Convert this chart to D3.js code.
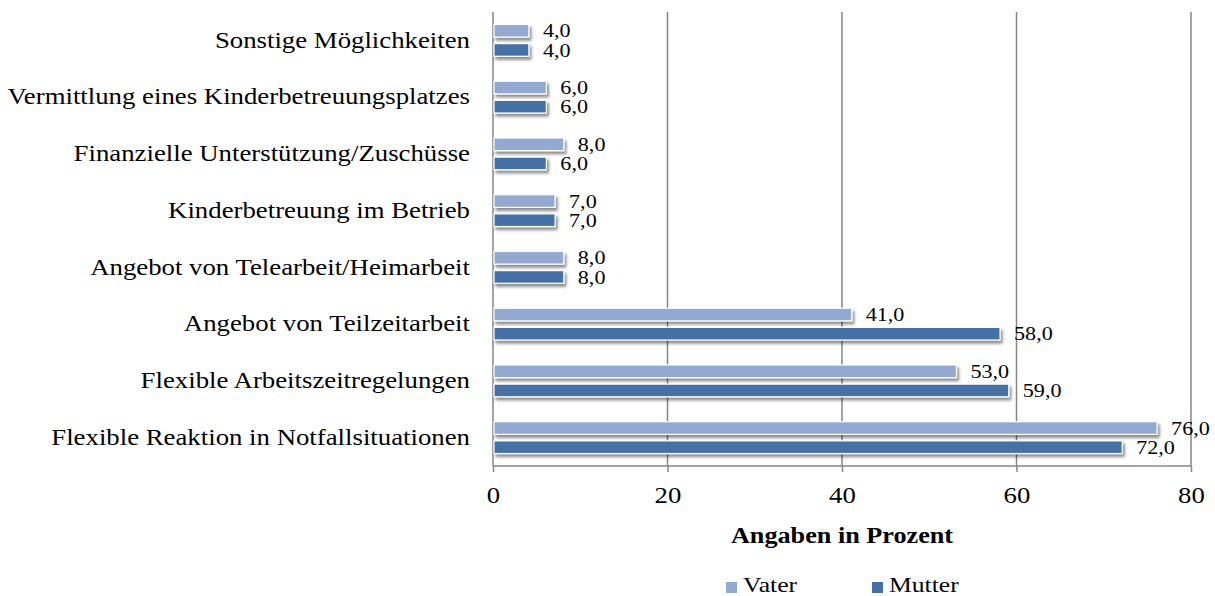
<!DOCTYPE html>
<html>
<head>
<meta charset="utf-8">
<script src="https://cdn.jsdelivr.net/npm/d3@7"></script>
<style>
  html, body { margin: 0; padding: 0; background: #fff; }
  svg { display: block; }
  svg text { font-family: "Liberation Serif", "Times New Roman", serif; fill: #000; }
</style>
</head>
<body>
<svg id="chart" width="1215" height="596"></svg>
<script>
// Categories, top to bottom
const categories = [
  "Sonstige Möglichkeiten",
  "Vermittlung eines Kinderbetreuungsplatzes",
  "Finanzielle Unterstützung/Zuschüsse",
  "Kinderbetreuung im Betrieb",
  "Angebot von Telearbeit/Heimarbeit",
  "Angebot von Teilzeitarbeit",
  "Flexible Arbeitszeitregelungen",
  "Flexible Reaktion in Notfallsituationen"
];
const seriesNames = ["Vater", "Mutter"];
const vaterValues  = [4, 6, 8, 7, 8, 41, 53, 76];
const mutterValues = [4, 6, 6, 7, 8, 58, 59, 72];
const xTicks = [0, 20, 40, 60, 80];
const axisTitle = "Angaben in Prozent";

const colors = { Vater: "#93a9d1", Mutter: "#4571a7" };
const STRETCH = 1.165;   // wide text setting used throughout the chart

// Widen a text horizontally while keeping its anchor point fixed
function widen(sel) {
  sel.each(function () {
    const t = d3.select(this);
    const x0 = +t.attr("x") || 0;
    t.attr("transform", `translate(${x0 * (1 - STRETCH)},0) scale(${STRETCH},1)`);
  });
}

const svg = d3.select("#chart");
const plotLeft = 493, plotRight = 1191, plotTop = 12, plotBottom = 466;

const x = d3.scaleLinear().domain([0, 80]).range([plotLeft, plotRight]);
const y = d3.scaleBand().domain(categories).range([plotTop, plotBottom]).paddingInner(0.44).paddingOuter(0.22);
const ySub = d3.scaleBand().domain(seriesNames).range([0, y.bandwidth()]).paddingInner(0.34);

// Drop shadow for bars
const defs = svg.append("defs");
const f = defs.append("filter").attr("id", "shadow").attr("x", "-10%").attr("y", "-50%").attr("width", "130%").attr("height", "250%");
f.append("feDropShadow").attr("dx", 2).attr("dy", 3).attr("stdDeviation", 1.6)
  .attr("flood-color", "#000").attr("flood-opacity", 0.45);

// Gridlines
svg.append("g").selectAll("line").data(xTicks.slice(1)).join("line")
  .attr("x1", d => x(d)).attr("x2", d => x(d))
  .attr("y1", plotTop).attr("y2", plotBottom)
  .attr("stroke", "#868686").attr("stroke-width", 1.5);

// X axis
const xAxis = d3.axisBottom(x).tickValues(xTicks).tickSize(6).tickPadding(15).tickFormat(d3.format("d"));
const gx = svg.append("g").attr("transform", `translate(0,${plotBottom})`).call(xAxis);
gx.attr("font-family", null);
gx.select(".domain").attr("stroke", "#868686").attr("stroke-width", 1.5).attr("d", `M${x(0)},0H${x(80)}`);
gx.selectAll(".tick line").attr("stroke", "#868686").attr("stroke-width", 1.5);
gx.selectAll(".tick text").attr("font-size", 23).call(widen);

// Y axis line
svg.append("line").attr("x1", x(0)).attr("x2", x(0)).attr("y1", plotTop).attr("y2", plotBottom)
  .attr("stroke", "#868686").attr("stroke-width", 1.5);

// Category labels
const yAxis = d3.axisLeft(y).tickSize(0).tickPadding(23);
const gy = svg.append("g").attr("transform", `translate(${x(0)},0)`).call(yAxis);
gy.attr("font-family", null);
gy.select(".domain").remove();
gy.selectAll(".tick text").attr("font-size", 23).call(widen);

// Bars
const rows = categories.map((c, i) => ({ cat: c, vals: [
  { s: "Vater", v: vaterValues[i] },
  { s: "Mutter", v: mutterValues[i] }
]}));

const groups = svg.append("g").selectAll("g").data(rows).join("g")
  .attr("transform", d => `translate(0,${y(d.cat)})`);

groups.selectAll("rect").data(d => d.vals).join("rect")
  .attr("x", x(0) + 1)
  .attr("y", d => ySub(d.s))
  .attr("width", d => x(d.v) - x(0))
  .attr("height", ySub.bandwidth())
  .attr("fill", d => colors[d.s])
  .attr("stroke", "#fff").attr("stroke-width", 1.2)
  .attr("filter", "url(#shadow)");

groups.selectAll("text").data(d => d.vals).join("text")
  .attr("x", d => x(d.v) + 15)
  .attr("y", d => ySub(d.s) + ySub.bandwidth() / 2)
  .attr("dy", "0.35em")
  .attr("font-size", 19)
  .text(d => d3.format(".1f")(d.v).replace(".", ","))
  .call(widen);

// Axis title
svg.append("text").attr("x", x(40)).attr("y", 535).attr("dy", "0.35em")
  .attr("text-anchor", "middle").attr("font-size", 22.5).attr("font-weight", "bold")
  .text(axisTitle)
  .call(widen);

// Legend
const legendX = [726, 872];
const lg = svg.append("g").selectAll("g").data(seriesNames).join("g")
  .attr("transform", (d, i) => `translate(${legendX[i]},582)`);
lg.append("rect").attr("width", 11).attr("height", 11).attr("fill", d => colors[d]);
lg.append("text").attr("x", 17).attr("y", 10).attr("font-size", 22).text(d => d).call(widen);
</script>
</body>
</html>
